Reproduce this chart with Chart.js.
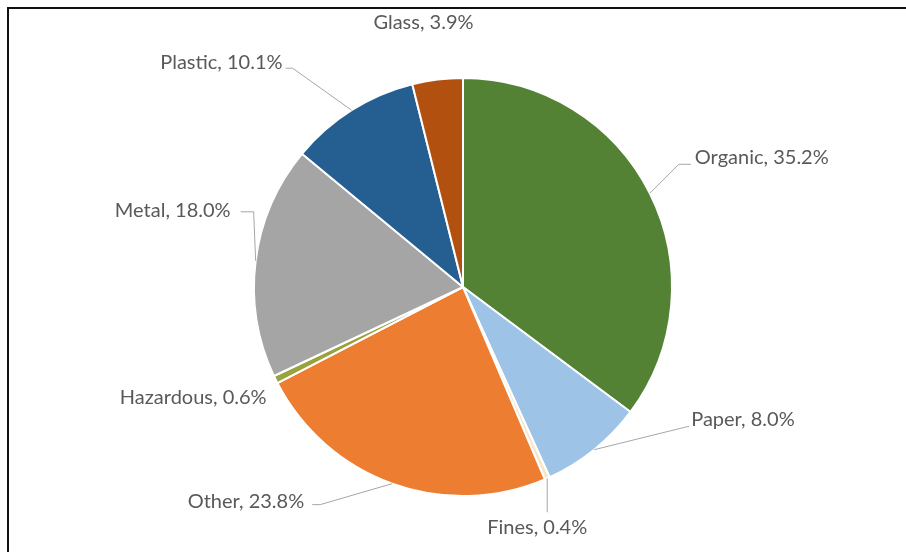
<!DOCTYPE html>
<html>
<head>
  <meta charset="utf-8">
  <script src="https://cdn.jsdelivr.net/npm/chart.js@4.4.1/dist/chart.umd.min.js"></script>
  <style>
    html, body { margin: 0; padding: 0; background: #fff; }
    .wrap { position: relative; width: 906px; height: 552px; overflow: hidden; }
    .frame {
      position: absolute; left: 7px; top: 7px; width: 960px; height: 600px;
      border-left: 2px solid #111; border-top: 2px solid #111;
    }
    #pie { position: absolute; left: 0; top: 0; }
  </style>
</head>
<body>
<div class="wrap">
  <div class="frame"></div>
  <canvas id="pie" width="906" height="552"></canvas>
</div>

<script>
  // waste composition, clockwise from 12 o'clock
  var categories = ['Organic', 'Paper', 'Fines', 'Other', 'Hazardous', 'Metal', 'Plastic', 'Glass'];
  var shares = [35.2, 8.0, 0.4, 23.8, 0.6, 18.0, 10.1, 3.9];
  var colours = ['#548235', '#9dc3e6', '#f6e6c8', '#ed7d31', '#9aa23c', '#a5a5a5', '#255e91', '#b1500f'];

  // where each label sits relative to its slice edge point
  // elbow: leader bend (dx, dy from edge), tail: horizontal stub, text: offset from elbow
  var labelLayout = {
    Organic:   { elbow: [29, -29], tail: 12, align: 'left',   text: [16, -7] },
    Paper:     { elbow: [93, -23], tail: 2,  align: 'left',   text: [4, -7] },
    Fines:     { elbow: [0, 34],   tail: 0,  align: 'center', text: [-10, 15] },
    Other:     { elbow: [-72, 21], tail: -8, align: 'right',  text: [-16, -3] },
    Hazardous: { none: true, at: [-9, 18], align: 'right' },
    Metal:     { elbow: [-2, -49], tail: -13, align: 'right', text: [-23, -1] },
    Plastic:   { elbow: [-59, -42], tail: -7, align: 'right', text: [-10, -6] },
    Glass:     { none: true, at: [-14, -57], align: 'center' }
  };

  var pieLabels = {
    id: 'pieLabels',
    afterDatasetsDraw: function (chart) {
      var ctx = chart.ctx;
      var arcs = chart.getDatasetMeta(0).data;
      ctx.save();
      ctx.font = '20px Lato';
      ctx.fillStyle = '#595959';
      ctx.strokeStyle = '#a6a6a6';
      ctx.lineWidth = 1;
      ctx.textBaseline = 'middle';
      arcs.forEach(function (arc, i) {
        var name = categories[i];
        var cfg = labelLayout[name];
        var mid = (arc.startAngle + arc.endAngle) / 2;
        var ex = arc.x + arc.outerRadius * Math.cos(mid);
        var ey = arc.y + arc.outerRadius * Math.sin(mid);
        var txt = name + ', ' + shares[i].toFixed(1) + '%';
        var tx, ty;
        if (cfg.none) {
          tx = ex + cfg.at[0];
          ty = ey + cfg.at[1];
        } else {
          var bx = ex + cfg.elbow[0], by = ey + cfg.elbow[1];
          ctx.beginPath();
          ctx.moveTo(ex, ey);
          ctx.lineTo(bx, by);
          ctx.lineTo(bx + cfg.tail, by);
          ctx.stroke();
          tx = bx + cfg.text[0];
          ty = by + cfg.text[1];
        }
        ctx.textAlign = cfg.align;
        ctx.fillText(txt, tx, ty);
      });
      ctx.restore();
    }
  };

  new Chart(document.getElementById('pie'), {
    type: 'pie',
    data: {
      labels: categories,
      datasets: [{
        data: shares,
        backgroundColor: colours,
        borderColor: '#ffffff',
        borderWidth: 2
      }]
    },
    options: {
      responsive: false,
      animation: false,
      layout: { padding: { left: 253, right: 233, top: 76, bottom: 54 } },
      plugins: {
        legend: { display: false },
        tooltip: { enabled: false }
      }
    },
    plugins: [pieLabels]
  });
</script>
</body>
</html>
